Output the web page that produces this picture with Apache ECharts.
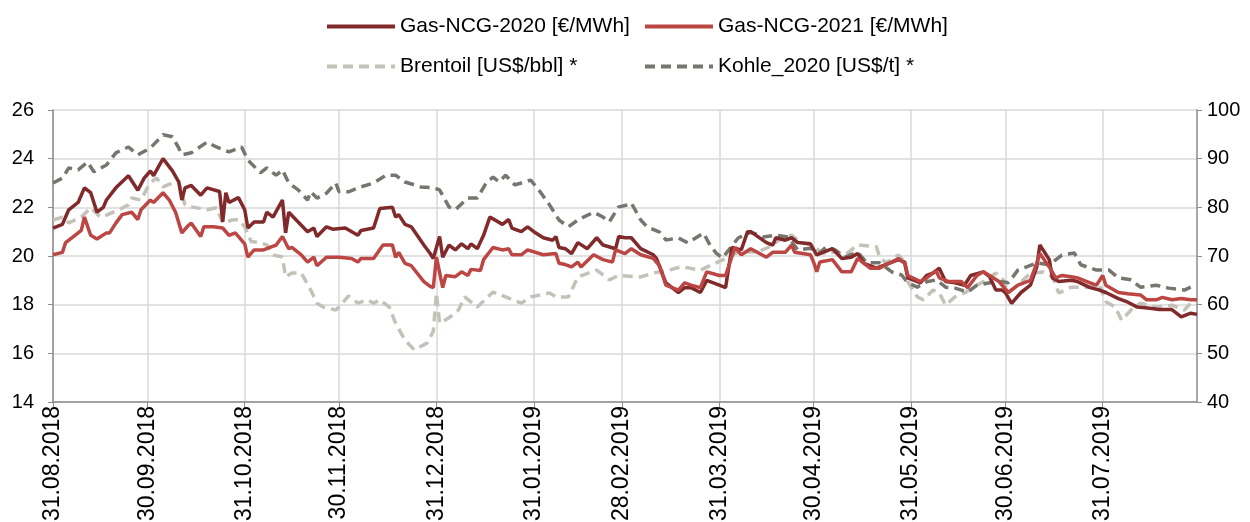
<!DOCTYPE html>
<html>
<head>
<meta charset="utf-8">
<title>Gas, Brent, Kohle</title>
<script src="https://cdn.jsdelivr.net/npm/echarts@6/dist/echarts.min.js"></script>
<style>
    html, body { margin: 0; padding: 0; background: #fff; }
    #chart { width: 1250px; height: 522px; }
</style>
</head>
<body>
<div id="chart"></div>
<script>
// Day 0 = 31.08.2018, the axis runs over every calendar day up to 30.08.2019
const startDate = '2018-08-31';
const dayCount = 365;

// Month-end dates that carry a tick, label and grid line
const monthEndLabels = [
    '31.08.2018', '30.09.2018', '31.10.2018', '30.11.2018', '31.12.2018', '31.01.2019',
    '28.02.2019', '31.03.2019', '30.04.2019', '31.05.2019', '30.06.2019', '31.07.2019'
];

// Left axis [€/MWh], right axis [US$]
const leftTicks = { min: 14, max: 26, step: 2 };
const rightTicks = { min: 40, max: 100, step: 10 };

// [day, value] pairs
const gas2020 = [
    [0,21.15],[3,21.3],[5,21.9],[8,22.2],[10,22.8],[12,22.6],[14,21.8],[16,22.0],[17,22.3],[20,22.8],
    [22,23.05],[24,23.3],[27,22.7],[29,23.2],[31,23.5],[32,23.3],[35,24.0],[38,23.5],[40,23.05],[41,22.3],
    [42,22.8],[44,22.9],[47,22.5],[49,22.8],[53,22.65],[54,21.4],[55,22.6],[56,22.2],[59,22.4],[61,21.9],
    [62,21.15],[64,21.4],[67,21.4],[68,21.8],[70,21.6],[73,22.3],[74,20.95],[75,21.8],[78,21.4],[81,21.0],
    [83,21.15],[84,20.8],[87,21.2],[89,21.1],[93,21.15],[97,20.85],[98,21.05],[102,21.15],[104,21.95],[108,22.0],
    [109,21.6],[110,21.7],[112,21.3],[114,21.2],[118,20.45],[120,20.1],[121,19.9],[123,20.8],[124,19.95],[126,20.45],
    [128,20.25],[130,20.5],[132,20.3],[133,20.5],[135,20.3],[137,20.85],[139,21.6],[143,21.3],[145,21.5],[146,21.15],
    [149,21.0],[151,21.2],[153,21.0],[156,20.75],[159,20.65],[160,20.8],[161,20.35],[163,20.3],[165,20.1],[167,20.55],
    [170,20.3],[173,20.75],[175,20.45],[179,20.3],[180,20.8],[182,20.75],[184,20.75],[187,20.3],[191,20.05],[192,19.9],
    [195,18.9],[199,18.5],[201,18.7],[203,18.7],[206,18.5],[208,19.0],[212,18.8],[214,18.7],[216,20.35],[219,20.25],
    [221,21.0],[222,21.0],[227,20.55],[229,20.45],[230,20.75],[233,20.65],[235,20.75],[237,20.55],[241,20.5],[243,20.05],
    [245,20.15],[248,20.3],[251,19.9],[254,19.95],[256,20.1],[258,19.7],[262,19.5],[266,19.7],[269,19.85],[271,19.75],
    [272,19.1],[276,18.9],[278,19.2],[280,19.3],[282,19.5],[284,18.95],[287,18.9],[290,18.8],[292,19.2],[296,19.35],
    [298,19.15],[300,18.6],[302,18.6],[303,18.5],[305,18.05],[308,18.5],[311,18.8],[313,19.55],[314,20.45],[317,19.85],
    [318,19.1],[320,18.95],[324,19.0],[326,18.95],[330,18.7],[333,18.6],[335,18.5],[339,18.25],[342,18.1],[345,17.9],
    [349,17.85],[352,17.8],[356,17.8],[359,17.5],[362,17.65],[364,17.6]
];

const gas2021 = [
    [0,20.05],[3,20.15],[4,20.55],[7,20.85],[9,21.05],[10,21.6],[12,20.85],[14,20.7],[17,20.95],[18,20.95],
    [20,21.35],[22,21.7],[25,21.8],[27,21.5],[28,21.9],[31,22.3],[32,22.2],[35,22.6],[37,22.3],[39,21.8],
    [41,20.95],[43,21.25],[44,21.35],[47,20.8],[48,21.2],[51,21.2],[54,21.15],[56,20.85],[58,20.95],[61,20.5],
    [62,19.95],[64,20.25],[67,20.25],[69,20.35],[71,20.45],[73,20.8],[75,20.3],[76,20.35],[79,20.05],[81,19.75],
    [83,19.95],[84,19.6],[87,19.95],[91,19.95],[95,19.9],[97,19.75],[98,19.9],[102,19.9],[105,20.45],[108,20.45],
    [109,19.95],[110,20.15],[112,19.7],[114,19.6],[118,18.95],[120,18.75],[121,18.7],[122,19.95],[124,18.7],[125,19.2],
    [128,19.15],[130,19.35],[132,19.2],[133,19.45],[136,19.4],[137,19.85],[140,20.35],[143,20.25],[145,20.3],[146,20.05],
    [149,20.05],[151,20.25],[156,20.05],[160,20.1],[161,19.7],[163,19.65],[165,19.55],[167,19.75],[168,19.55],[172,20.05],
    [175,19.85],[178,19.75],[179,20.25],[182,20.1],[184,20.3],[187,20.05],[191,19.9],[193,19.6],[195,18.8],[199,18.6],
    [201,18.9],[203,18.8],[206,18.7],[208,19.35],[212,19.2],[214,19.2],[217,20.35],[219,20.05],[222,20.3],[227,19.95],
    [229,20.15],[233,20.15],[235,20.45],[236,20.15],[241,20.05],[242,19.75],[243,19.35],[244,19.75],[248,19.85],[251,19.35],
    [254,19.35],[256,19.9],[260,19.5],[263,19.5],[266,19.7],[269,19.9],[271,19.7],[272,19.2],[276,18.95],[278,19.1],
    [281,19.4],[282,19.1],[285,18.95],[289,18.95],[291,18.7],[294,19.2],[296,19.35],[298,19.2],[301,18.95],[304,18.5],
    [307,18.8],[311,19.0],[313,19.7],[314,20.1],[317,19.55],[319,19.1],[321,19.2],[324,19.15],[326,19.1],[330,18.9],
    [332,18.8],[334,19.2],[335,18.8],[339,18.5],[342,18.45],[346,18.4],[348,18.2],[351,18.2],[353,18.3],[356,18.2],
    [359,18.25],[362,18.2],[364,18.2]
];

const brent = [
    [0,77.4],[3,78.0],[5,76.8],[9,78.0],[12,79.9],[15,78.0],[17,78.4],[21,79.5],[24,80.5],[25,81.9],
    [28,81.5],[30,84.0],[32,85.6],[33,86.0],[35,84.2],[38,85.0],[40,85.3],[42,80.5],[44,80.1],[49,79.5],
    [52,79.9],[54,76.8],[57,77.4],[59,77.5],[61,76.0],[63,73.0],[66,72.7],[68,72.3],[70,70.2],[73,69.8],
    [74,65.7],[76,66.5],[79,66.5],[82,63.0],[84,60.3],[86,59.5],[90,58.9],[91,59.5],[94,61.8],[97,60.3],
    [100,61.0],[102,60.3],[104,61.0],[107,59.5],[109,56.2],[112,52.7],[115,50.7],[119,52.1],[121,54.5],[122,62.4],
    [123,56.2],[126,57.3],[129,58.9],[131,61.6],[135,59.5],[140,62.6],[144,61.6],[149,60.3],[152,61.6],[158,62.4],
    [160,61.6],[164,61.6],[167,65.7],[173,67.1],[177,65.1],[180,66.0],[187,65.7],[191,66.5],[196,67.1],[200,67.8],
    [206,67.1],[211,68.6],[215,69.8],[218,70.8],[224,70.8],[228,71.9],[232,73.7],[235,74.3],[238,72.7],[241,72.3],
    [245,70.6],[249,70.8],[252,70.2],[256,72.3],[262,71.9],[263,69.8],[265,68.6],[269,70.2],[271,68.8],[272,64.7],
    [275,61.6],[277,61.0],[280,63.0],[282,62.4],[284,59.9],[287,61.6],[290,62.4],[294,64.0],[297,65.1],[300,66.5],
    [302,65.5],[304,62.6],[307,64.0],[311,66.5],[315,66.7],[318,65.7],[320,62.4],[324,63.6],[329,63.6],[333,64.0],
    [335,60.6],[338,59.5],[340,56.8],[343,58.9],[346,60.3],[351,59.5],[356,59.9],[360,58.9],[363,61.0]
];

const kohle = [
    [0,85.0],[3,86.0],[5,88.1],[8,87.7],[11,89.3],[13,87.3],[17,88.7],[20,91.2],[24,92.4],[27,90.8],
    [31,92.2],[35,94.9],[38,94.5],[40,92.2],[41,90.8],[44,91.2],[49,93.4],[52,92.4],[56,91.4],[60,92.4],
    [62,89.7],[66,87.1],[68,88.1],[71,86.6],[73,87.7],[75,85.0],[78,83.6],[81,81.5],[82,83.2],[84,81.9],
    [87,82.9],[90,85.0],[91,83.2],[94,83.2],[98,84.2],[102,85.0],[106,86.6],[109,86.6],[112,85.2],[117,84.2],
    [121,84.0],[123,83.6],[126,80.1],[128,79.5],[132,81.9],[135,81.9],[138,85.2],[140,86.2],[142,85.2],[144,86.6],
    [147,84.6],[152,85.6],[155,83.2],[158,80.5],[161,77.4],[164,76.0],[167,77.4],[172,79.0],[175,78.0],[177,77.0],
    [180,80.1],[183,80.5],[184,80.9],[187,77.4],[189,76.0],[193,74.9],[195,73.3],[199,73.7],[202,72.7],[207,74.7],
    [209,72.3],[211,70.6],[213,69.6],[215,71.2],[218,73.7],[222,74.9],[226,73.9],[230,74.3],[234,73.9],[237,71.2],
    [241,71.6],[244,70.6],[246,71.9],[249,71.2],[252,69.8],[256,70.8],[259,68.6],[263,68.6],[267,66.7],[270,66.1],
    [272,64.5],[275,63.6],[278,64.7],[281,65.1],[284,63.6],[287,63.4],[291,62.6],[294,64.0],[298,64.5],[302,64.7],
    [304,64.5],[307,67.1],[310,67.8],[313,68.6],[317,68.2],[321,70.2],[325,70.6],[327,68.2],[332,67.1],[336,67.1],
    [339,65.5],[343,65.1],[346,63.6],[351,64.0],[355,63.4],[360,63.0],[362,63.6]
];

const seriesNames = [
    'Gas-NCG-2020 [€/MWh]',
    'Gas-NCG-2021 [€/MWh]',
    'Brentoil [US$/bbl] *',
    'Kohle_2020 [US$/t] *'
];

// Build the daily category list dd.mm.yyyy
function buildDays() {
    const days = [];
    const d0 = new Date(startDate + 'T00:00:00Z');
    for (let i = 0; i < dayCount; i++) {
        const d = new Date(d0.getTime() + i * 86400000);
        const dd = String(d.getUTCDate()).padStart(2, '0');
        const mm = String(d.getUTCMonth() + 1).padStart(2, '0');
        days.push(dd + '.' + mm + '.' + d.getUTCFullYear());
    }
    return days;
}

const days = buildDays();
const isMonthEnd = (index, value) => monthEndLabels.includes(value);

const font = '"Liberation Sans", Arial, sans-serif';
const gridColor = '#d9d9d9';
const axisColor = '#8c8c8c';

function lineSeries(name, data, color, yAxisIndex, dashed) {
    return {
        name: name,
        type: 'line',
        yAxisIndex: yAxisIndex,
        data: data,
        showSymbol: false,
        symbol: 'none',
        connectNulls: true,
        lineStyle: { color: color, width: 3.5, type: dashed ? [10, 6] : 'solid' },
        itemStyle: { color: color },
        z: dashed ? 2 : 3
    };
}

const chart = echarts.init(document.getElementById('chart'));

// the legend keeps only the line sample, the marker circle is hidden
const legendBase = {
    orient: 'vertical',
    top: 11,
    itemWidth: 68,
    itemHeight: 20,
    itemGap: 19,
    itemStyle: { opacity: 0 },
    lineStyle: { width: 4 },
    textStyle: { fontFamily: font, fontSize: 21, color: '#000' }
};

const option = {
    animation: false,
    backgroundColor: '#fff',
    legend: [
        Object.assign({}, legendBase, { left: 320, data: [seriesNames[0], seriesNames[2]] }),
        Object.assign({}, legendBase, { left: 638, data: [seriesNames[1], seriesNames[3]] })
    ],
    // labels may run past the bottom edge, as in the original
    grid: { left: 53, right: 53, top: 110, bottom: 120, containLabel: false, outerBoundsMode: 'none' },
    xAxis: {
        type: 'category',
        data: days,
        boundaryGap: false,
        axisLine: { lineStyle: { color: axisColor, width: 1.5 } },
        axisTick: { show: true, interval: isMonthEnd, length: 6, lineStyle: { color: axisColor } },
        axisLabel: {
            interval: isMonthEnd,
            rotate: 90,
            margin: 4,
            fontFamily: font,
            fontSize: 23,
            color: '#000'
        },
        splitLine: { show: true, interval: isMonthEnd, lineStyle: { color: gridColor, width: 1.5 } }
    },
    yAxis: [
        {
            type: 'value',
            min: leftTicks.min,
            max: leftTicks.max,
            interval: leftTicks.step,
            position: 'left',
            axisLine: { show: true, lineStyle: { color: axisColor, width: 1.5 } },
            axisTick: { show: true, length: 5, lineStyle: { color: axisColor } },
            axisLabel: { fontFamily: font, fontSize: 20, color: '#000', margin: 19 },
            splitLine: { show: true, lineStyle: { color: gridColor, width: 1.5 } }
        },
        {
            type: 'value',
            min: rightTicks.min,
            max: rightTicks.max,
            interval: rightTicks.step,
            position: 'right',
            axisLine: { show: true, lineStyle: { color: axisColor, width: 1.5 } },
            axisTick: { show: true, length: 5, lineStyle: { color: axisColor } },
            axisLabel: { fontFamily: font, fontSize: 20, color: '#000', margin: 10 },
            splitLine: { show: false }
        }
    ],
    series: [
        lineSeries(seriesNames[2], brent, '#c3c1b8', 1, true),
        lineSeries(seriesNames[3], kohle, '#76766e', 1, true),
        lineSeries(seriesNames[0], gas2020, '#812a2b', 0, false),
        lineSeries(seriesNames[1], gas2021, '#bb4643', 0, false)
    ]
};

chart.setOption(option);
</script>
</body>
</html>
